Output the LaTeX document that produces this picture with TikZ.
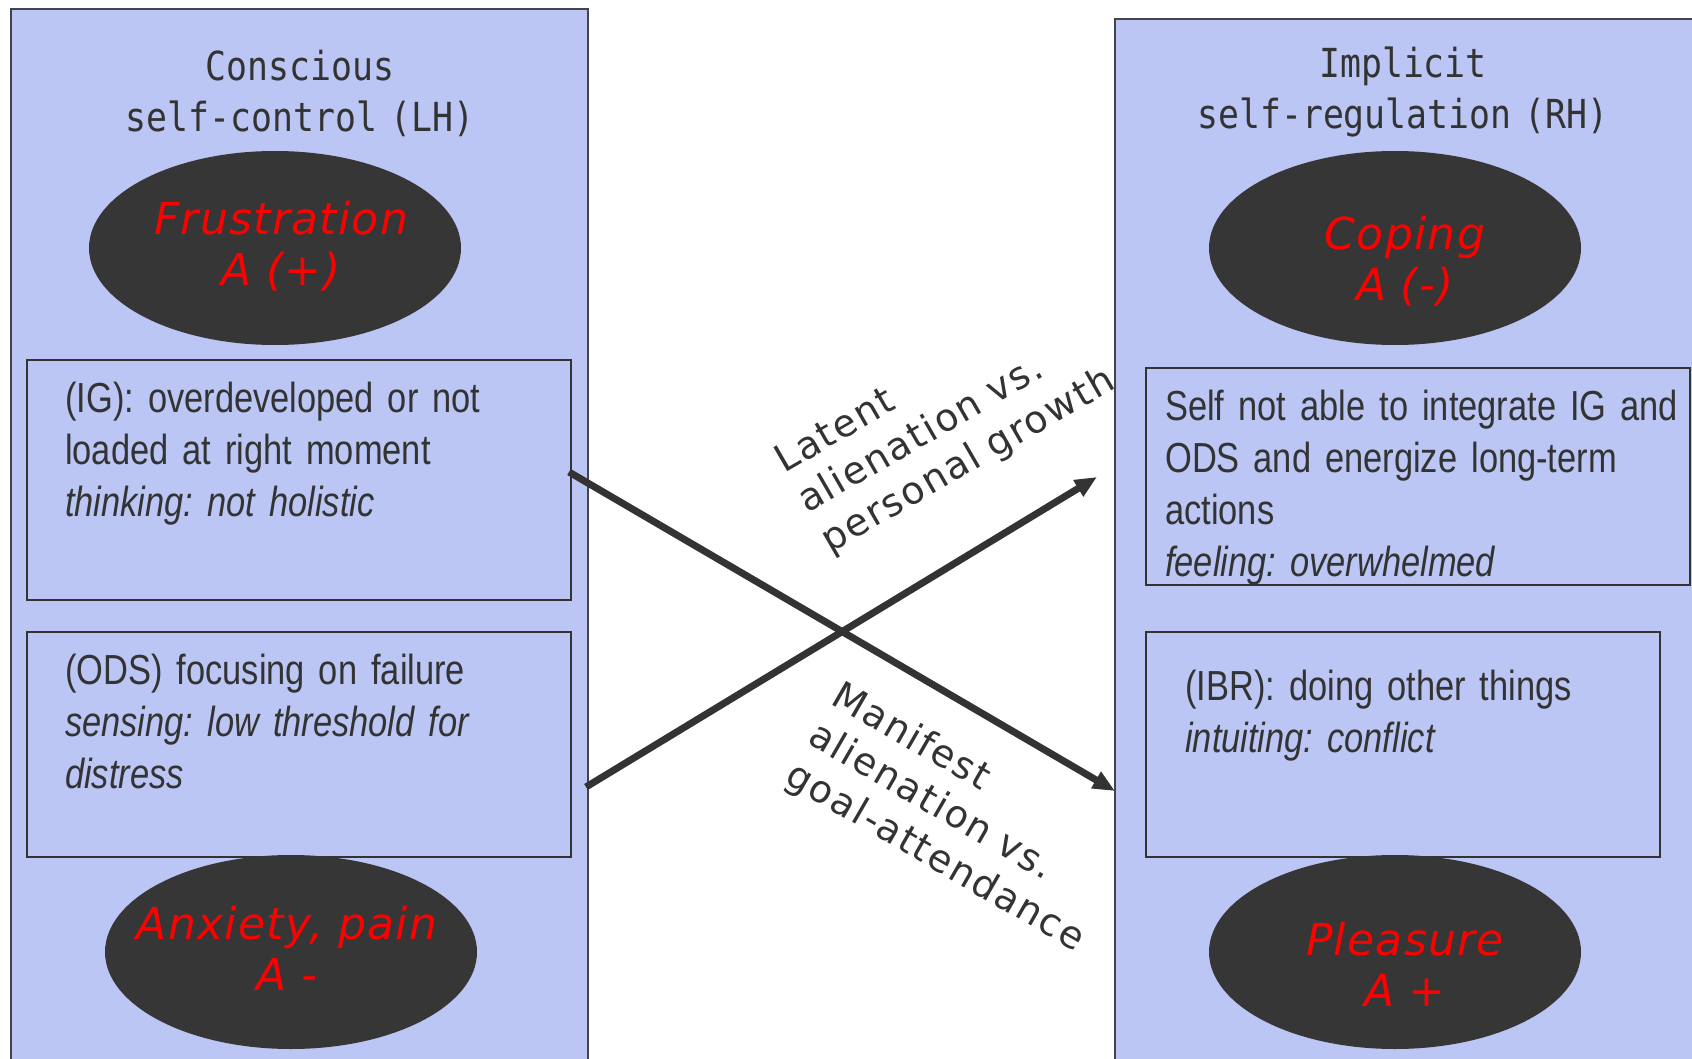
\documentclass[tikz,border=0pt]{standalone}
\usepackage{fontspec}
\setmainfont{Liberation Sans}
\newfontfamily\boxfont[FakeStretch=0.82]{Liberation Sans}
\newfontfamily\ovalfont[LetterSpace=3]{DejaVu Sans}
\newfontfamily\titlefont[FakeStretch=0.87]{DejaVu Sans Mono}
\newfontfamily\labelfont[LetterSpace=5]{DejaVu Sans}
\usetikzlibrary{arrows.meta,shapes.geometric,calc}
\definecolor{panelblue}{RGB}{187,198,244}
\definecolor{ink}{RGB}{51,51,51}
\definecolor{ovalfill}{RGB}{54,54,54}
\definecolor{framegray}{RGB}{68,68,72}
\newcommand{\boxfontsetup}{\boxfont\frenchspacing\fontsize{42}{52}\selectfont\spaceskip=0.19em plus 0.05em\relax}
\tikzset{
  panel/.style={draw=framegray, line width=2pt, fill=panelblue, rectangle, inner sep=0pt, outer sep=0pt, anchor=north west},
  infobox/.style={draw=ink, line width=2.5pt, fill=panelblue, rectangle, inner sep=0pt, outer sep=0pt, anchor=north west},
  oval/.style={ellipse, fill=ovalfill, draw=none, minimum width=372pt, minimum height=194pt, inner sep=0pt},
  ovaltext/.style={text=red, font=\ovalfont\itshape\fontsize{44}{51}\selectfont, text width=380pt, align=center, inner sep=0pt, anchor=base},
  boxtext/.style={text=ink, font=\boxfontsetup, text width=520pt, align=left, inner sep=0pt, anchor=base west},
  titletext/.style={text=ink, font=\titlefont\fontsize{40}{51}\selectfont, text width=560pt, align=center, inner sep=0pt, anchor=base},
  linklabel/.style={text=ink, font=\labelfont\fontsize{38}{46}\selectfont, text width=420pt, align=left, inner sep=0pt, anchor=base west},
  link/.style={draw=ink, line width=7pt, -{Triangle[length=22pt,width=18pt]}}
}
\begin{document}
\begin{tikzpicture}[x=1pt,y=-1pt]
\useasboundingbox (0,0) rectangle (1692,1059);
\clip (0,0) rectangle (1692,1059);
\fill[white] (0,0) rectangle (1692,1059);

% panels
\node[panel, minimum width=577pt, minimum height=1090pt] (lp) at (11,9) {};
\node[panel, minimum width=600pt, minimum height=1080pt] (rp) at (1115,19) {};

% titles
\node[titletext] (lt) at (300,81) {Conscious\\self-control (LH)};
\node[titletext] (rt) at (1403,78) {Implicit\\self-regulation (RH)};

% boxes
\node[infobox, minimum width=544pt, minimum height=240pt] (ig) at (27,360) {};
\node[infobox, minimum width=544pt, minimum height=225pt] (ods) at (27,632) {};
\node[infobox, minimum width=544pt, minimum height=217pt] (self) at (1146,368) {};
\node[infobox, minimum width=514pt, minimum height=225pt] (ibr) at (1146,632) {};

\node[boxtext] (igt) at (65,412) {(IG): overdeveloped or not\\loaded at right moment\\\textit{thinking: not holistic}};
\node[boxtext] (odst) at (65,684) {(ODS) focusing on failure\\\textit{sensing: low threshold for}\\\textit{distress}};
\node[boxtext] (selft) at (1165,420) {Self not able to integrate IG and\\ODS and energize long-term\\actions\\\textit{feeling: overwhelmed}};
\node[boxtext] (ibrt) at (1185,700) {(IBR): doing other things\\\textit{intuiting: conflict}};

% ovals
\node[oval] (frus) at (275,248) {};
\node[oval] (cop) at (1395,248) {};
\node[oval] (anx) at (291,952) {};
\node[oval] (plea) at (1395,952) {};

\node[ovaltext] (frust) at (281,235) {Frustration\\A (+)};
\node[ovaltext] (copt) at (1405,250) {Coping\\A (-)};
\node[ovaltext] (anxt) at (287,939) {Anxiety, pain\\A -};
\node[ovaltext] (pleat) at (1405,955) {Pleasure\\A +};

% connectors
\coordinate (a1s) at ($(ig.east)+(-2,-8)$);
\coordinate (a1e) at ($(rp.north west)+(0,772)$);
\coordinate (a2s) at ($(lp.north east)+(-2,778)$);
\coordinate (a2e) at ($(rp.north west)+(-18,458)$);
\draw[link] (a1s) -- (a1e);
\draw[link] (a2s) -- (a2e);

% labels
\node[linklabel, rotate=30] (lat) at (784,474) {Latent\\alienation vs.\\personal growth};
\node[linklabel, rotate=-30] (man) at (829,703) {Manifest\\alienation vs.\\goal-attendance};
\end{tikzpicture}
\end{document}
